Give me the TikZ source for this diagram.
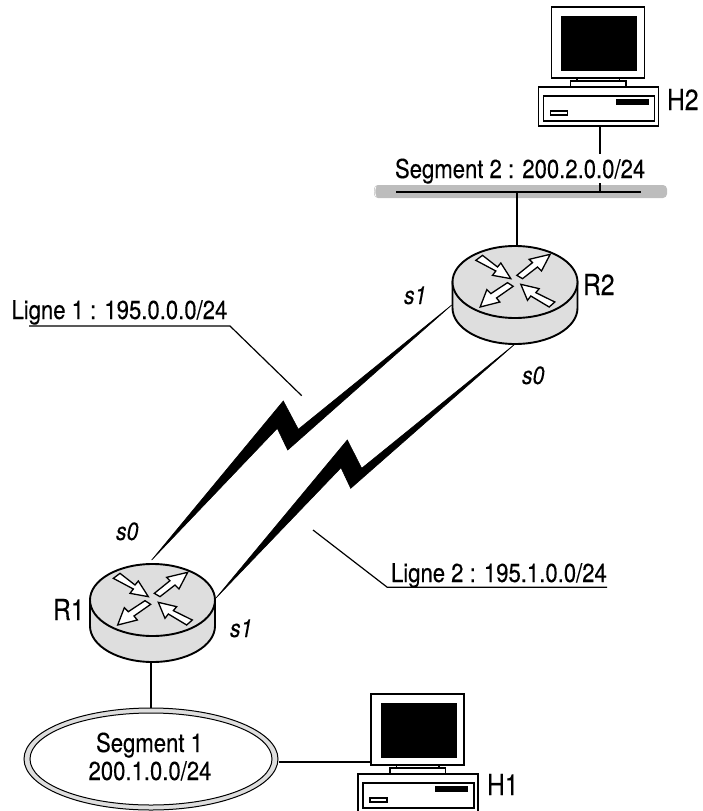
\documentclass[tikz,border=0pt]{standalone}
\usepackage{fontspec}
\setmainfont{TeX Gyre Heros}[FakeStretch=0.85,FakeBold=0.25]
\usetikzlibrary{calc,shapes.geometric}
\definecolor{routergray}{HTML}{DEDEDE}
\definecolor{busgray}{HTML}{BDBDBD}
\tikzset{
  x=1pt,y=-1pt,
  wire/.style={draw=black,line width=1.2pt},
  bolt/.style={fill=black,draw=black,line width=.6pt,line join=miter},
  lab/.style={inner sep=0pt,outer sep=0pt,anchor=base west,font=\fontsize{26}{28}\selectfont},
  biglab/.style={lab,font=\fontsize{29}{31}\selectfont},
  ilab/.style={lab,font=\fontsize{25}{27}\selectfont\itshape},
  rout/.style={draw=black,line width=1.9pt,fill=routergray},
  darrow/.style={draw=black,line width=1.3pt,fill=white,line join=miter},
  pc/.style={draw=black,line width=1.2pt,fill=white},
  pics/router/.style={code={
    \path[rout] (-62.5,0) -- (-62.5,26) arc[start angle=180,end angle=0,x radius=62.5,y radius=36] -- (62.5,0) -- cycle;
    \path[rout] (0,0) ellipse[x radius=62.5,y radius=36];
    \begin{scope}[shift={(-47.5,-35)},x=.3333pt,y=-.3333pt]
      \path[darrow] (25,40)--(45,25)--(90,60)--(100,48)--(130,95)--(75,85)--(85,72)--cycle;
      \path[darrow] (148,85)--(195,47)--(185,37)--(248,22)--(222,72)--(210,60)--(165,95)--cycle;
      \path[darrow] (120,107)--(70,140)--(58,128)--(38,180)--(97,165)--(87,153)--(137,118)--cycle;
      \path[darrow] (160,112)--(215,125)--(205,137)--(262,165)--(245,180)--(190,147)--(180,160)--cycle;
    \end{scope}
    \coordinate (-top) at (0,-36);
    \coordinate (-bottom) at (0,62);
  }},
  pics/computer/.style={code={
    % origin = top left of monitor
    \path[pc] (0,0) rectangle (93,71);
    \path[fill=black] (9.5,8.5) rectangle (85.5,63.5);
    \path[pc] (25.5,71) rectangle (68,74);
    \path[pc] (19,74) rectangle (74.5,80);
    \path[pc] (-13,80) rectangle (107,119);
    \path[pc] (-8,89) rectangle (103,114);
    \path[fill=black] (64,92) rectangle (97,98);
    \path[pc] (-1,104) rectangle (16,108);
    \coordinate (-left) at (0,68);
    \coordinate (-bottom) at (49,119);
  }}
}
\begin{document}
\begin{tikzpicture}
\useasboundingbox (0,0) rectangle (702,811);
\clip (0,0) rectangle (702,811);

% bolts
\path[bolt] (151.7,560) -- (283.3,401) -- (298.3,429.3) -- (451.7,305) -- (287.7,450) -- (277.3,428.3) -- cycle;
\path[bolt] (216,598) -- (347.3,440) -- (361.7,468.3) -- (515,344) -- (350.7,488.3) -- (341,467.7) -- cycle;

% devices
\pic (R2) at (515,282) {router};
\pic (R1) at (152.5,600) {router};
\pic (H2) at (551.5,7) {computer};
\pic (H1) at (371,694) {computer};

% bus
\node[draw=none,fill=busgray,rounded corners=4pt,minimum width=293pt,minimum height=13pt,inner sep=0pt] (bus) at (520.5,191.5) {};
\draw[white,line width=.8pt] (376,186.5) .. controls (374.5,189) and (374.5,194) .. (376,196.5);
\coordinate (busL) at (396,192);
\coordinate (busR) at (641,192);
\draw[wire] (busL) -- (busR);

% segment 1 ellipse
\node[draw=black,line width=1pt,fill=routergray,ellipse,minimum width=254pt,minimum height=102pt,inner sep=0pt] (seg1) at (151,759) {};
\node[draw=black,line width=1pt,fill=white,ellipse,minimum width=242pt,minimum height=92pt,inner sep=0pt] (seg1in) at (151,759) {};
\node[lab,anchor=base,align=center] (seg1t) at (149.5,752) {Segment 1};
\node[lab,anchor=base] (seg1u) at (150,780) {200.1.0.0/24};

% wires
\coordinate (h2a) at (600,154);
\coordinate (h2b) at (600,183);
\coordinate (h2c) at (600,192);
\draw[wire] (h2a |- H2-bottom) -- (h2a);
\draw[wire] (h2b) -- (h2c);
\coordinate (busMid) at (517,192);
\draw[wire] (busMid) -- (busMid |- R2-top);
\draw[wire] (seg1.north) -- (seg1.north |- R1-bottom);
\draw[wire] (seg1.east |- H1-left) -- (H1-left);

% labels
\node[lab] (segtwo) at (395,178) {Segment 2 : 200.2.0.0/24};
\node[biglab] (lh2) at (667,110) {H2};
\node[biglab] (lh1) at (487,795) {H1};
\node[biglab] (lr2) at (583,295) {R2};
\node[biglab] (lr1) at (53,620) {R1};
\node[ilab] (s1a) at (404,304) {s1};
\node[ilab] (s0a) at (522,384) {s0};
\node[ilab] (s0b) at (116,540) {s0};
\node[ilab] (s1b) at (230,637) {s1};
\node[lab] (l1) at (11.5,319) {Ligne 1 : 195.0.0.0/24};
\node[lab] (l2) at (391,582) {Ligne 2 : 195.1.0.0/24};

% callouts
\coordinate (c1a) at (29,326);
\coordinate (c1b) at (230,326);
\coordinate (c1c) at (301.7,395.7);
\draw[wire] (c1a) -- (c1b) -- (c1c);
\coordinate (c2a) at (607,587.3);
\coordinate (c2b) at (387.3,587.3);
\coordinate (c2c) at (313,530);
\draw[wire] (c2a) -- (c2b) -- (c2c);
\end{tikzpicture}
\end{document}
